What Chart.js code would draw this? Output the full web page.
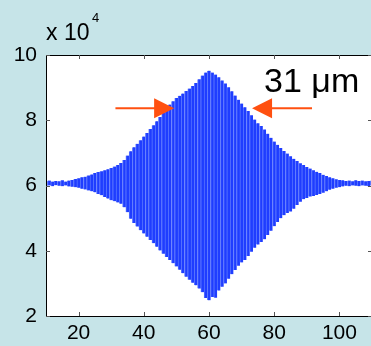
<!DOCTYPE html>
<html>
<head>
<meta charset="utf-8">
<script src="https://cdn.jsdelivr.net/npm/chart.js@4.4.0/dist/chart.umd.min.js"></script>
<style>
html, body { margin: 0; padding: 0; background: #c6e4e8; overflow: hidden; width: 371px; height: 346px; }
#wrap { width: 375px; height: 346px; }
</style>
</head>
<body>
<div id="wrap"><canvas id="myChart" width="375" height="346"></canvas></div>
<script>
// scan position (x axis)
var xPos = [10, 11, 12, 13, 14, 15, 16, 17, 18, 19, 20, 21, 22, 23, 24, 25, 26, 27, 28, 29,
    30, 31, 32, 33, 34, 35, 36, 37, 38, 39, 40, 41, 42, 43, 44, 45, 46, 47, 48, 49,
    50, 51, 52, 53, 54, 55, 56, 57, 58, 59, 60, 61, 62, 63, 64, 65, 66, 67, 68, 69,
    70, 71, 72, 73, 74, 75, 76, 77, 78, 79, 80, 81, 82, 83, 84, 85, 86, 87, 88, 89,
    90, 91, 92, 93, 94, 95, 96, 97, 98, 99, 100, 101, 102, 103, 104, 105, 106, 107, 108, 109, 110];

// fringe maxima / minima (x 10^4)
var upper = [6.13, 6.15, 6.12, 6.14, 6.13, 6.16, 6.12, 6.15, 6.17, 6.20,
    6.22, 6.25, 6.27, 6.31, 6.34, 6.38, 6.41, 6.44, 6.47, 6.50,
    6.54, 6.58, 6.63, 6.69, 6.78, 6.92, 7.05, 7.17, 7.28, 7.39,
    7.50, 7.61, 7.73, 7.85, 7.97, 8.10, 8.22, 8.34, 8.48, 8.58,
    8.68, 8.75, 8.82, 8.90, 8.97, 9.05, 9.14, 9.26, 9.37, 9.46,
    9.52, 9.46, 9.40, 9.32, 9.22, 9.13, 9.01, 8.89, 8.76, 8.63,
    8.51, 8.40, 8.28, 8.15, 8.02, 7.91, 7.82, 7.72, 7.59, 7.46,
    7.35, 7.25, 7.15, 7.06, 6.98, 6.90, 6.82, 6.75, 6.68, 6.63,
    6.57, 6.52, 6.47, 6.42, 6.38, 6.33, 6.29, 6.25, 6.22, 6.19,
    6.17, 6.16, 6.14, 6.15, 6.13, 6.16, 6.14, 6.15, 6.13, 6.14, 6.15];
var lower = [5.99, 6.00, 5.98, 6.01, 5.99, 5.98, 6.00, 5.97, 5.96, 5.95,
    5.93, 5.90, 5.88, 5.85, 5.82, 5.79, 5.74, 5.70, 5.65, 5.60,
    5.55, 5.52, 5.48, 5.44, 5.33, 5.18, 4.98, 4.85, 4.74, 4.63,
    4.53, 4.43, 4.33, 4.23, 4.12, 4.01, 3.91, 3.81, 3.72, 3.62,
    3.52, 3.42, 3.31, 3.20, 3.11, 3.02, 2.94, 2.84, 2.73, 2.55,
    2.48, 2.58, 2.56, 2.78, 2.90, 3.00, 3.14, 3.28, 3.41, 3.54,
    3.64, 3.72, 3.84, 3.97, 4.09, 4.19, 4.27, 4.35, 4.48, 4.61,
    4.75, 4.88, 5.00, 5.09, 5.16, 5.20, 5.29, 5.40, 5.50, 5.58,
    5.62, 5.66, 5.68, 5.71, 5.74, 5.78, 5.82, 5.87, 5.90, 5.93,
    5.95, 5.97, 5.99, 5.98, 6.00, 5.99, 5.98, 6.00, 5.99, 5.98, 6.00];

var xTicks = [20, 40, 60, 80, 100];
var yTicks = [2, 4, 6, 8, 10];

// FWHM markers
var arrowY = 8.37;
var leftArrow = [31.3, 49.3];
var rightArrow = [91.6, 73.2];
var widthLabel = '31 μm';
var labelPos = [76.9, 8.88];

var FONT = '"Liberation Sans", Arial, Helvetica, sans-serif';

var framePlugin = {
    id: 'frame',
    beforeDatasetsDraw: function (chart) {
        var a = chart.chartArea, ctx = chart.ctx;
        ctx.save();
        ctx.fillStyle = '#ffffff';
        ctx.fillRect(a.left, a.top, a.right - a.left, a.bottom - a.top);
        ctx.restore();
    },
    afterDraw: function (chart) {
        var a = chart.chartArea, ctx = chart.ctx;
        var xs = chart.scales.x, ys = chart.scales.y;
        ctx.save();
        ctx.strokeStyle = '#000';
        ctx.lineWidth = 1;
        ctx.strokeRect(Math.round(a.left) + 0.5, Math.round(a.top) + 0.5, Math.round(a.right - a.left), Math.round(a.bottom - a.top));
        ctx.strokeStyle = '#555';
        ctx.beginPath();
        xTicks.forEach(function (v) {
            var p = Math.round(xs.getPixelForValue(v)) + 0.5;
            ctx.moveTo(p, a.bottom); ctx.lineTo(p, a.bottom - 4);
            ctx.moveTo(p, a.top); ctx.lineTo(p, a.top + 4);
        });
        yTicks.forEach(function (v) {
            var p = Math.round(ys.getPixelForValue(v)) + 0.5;
            ctx.moveTo(a.left, p); ctx.lineTo(a.left + 4, p);
            ctx.moveTo(a.right, p); ctx.lineTo(a.right - 4, p);
        });
        ctx.stroke();

        // exponent label
        ctx.fillStyle = '#000';
        ctx.textBaseline = 'alphabetic';
        ctx.textAlign = 'left';
        ctx.font = '23px ' + FONT;
        ctx.fillText('x 10', 46, 40);
        ctx.font = '13px ' + FONT;
        ctx.fillText('4', 92, 22);

        // arrows
        var ay = ys.getPixelForValue(arrowY);
        ctx.strokeStyle = '#ff5010';
        ctx.fillStyle = '#ff5010';
        ctx.lineWidth = 2;
        [leftArrow, rightArrow].forEach(function (ar) {
            var x0 = xs.getPixelForValue(ar[0]);
            var x1 = xs.getPixelForValue(ar[1]);
            var dir = x1 > x0 ? 1 : -1;
            ctx.beginPath();
            ctx.moveTo(x0, ay); ctx.lineTo(x1 - dir * 18, ay);
            ctx.stroke();
            ctx.beginPath();
            ctx.moveTo(x1, ay);
            ctx.lineTo(x1 - dir * 20, ay - 10);
            ctx.lineTo(x1 - dir * 20, ay + 10);
            ctx.closePath();
            ctx.fill();
        });

        ctx.fillStyle = '#000';
        ctx.font = '34px ' + FONT;
        ctx.textAlign = 'left';
        ctx.fillText(widthLabel, xs.getPixelForValue(labelPos[0]), ys.getPixelForValue(labelPos[1]));
        ctx.restore();
    }
};

var ctx = document.getElementById('myChart').getContext('2d');
var myChart = new Chart(ctx, {
    type: 'bar',
    data: {
        datasets: [{
            data: xPos.map(function (x, i) { return { x: x, y: [lower[i], upper[i]] }; }),
            backgroundColor: '#1f3dff',
            borderColor: '#5572ff',
            borderWidth: { left: 1, right: 0, top: 0, bottom: 0 },
            borderSkipped: false,
            categoryPercentage: 1,
            barPercentage: 1
        }]
    },
    options: {
        responsive: false,
        animation: false,
        events: [],
        layout: { padding: { top: 55, right: 3, left: 0, bottom: 0 } },
        plugins: { legend: { display: false }, tooltip: { enabled: false } },
        scales: {
            x: {
                type: 'linear',
                min: 10,
                max: 110,
                offset: false,
                grid: { display: false, drawTicks: false },
                border: { display: false },
                afterBuildTicks: function (s) { s.ticks = xTicks.map(function (v) { return { value: v }; }); },
                afterFit: function (s) { s.height = 30; },
                ticks: { color: '#000', padding: 5, maxRotation: 0, font: { family: FONT, size: 21 } }
            },
            y: {
                min: 2,
                max: 10,
                grid: { display: false, drawTicks: false },
                border: { display: false },
                afterBuildTicks: function (s) { s.ticks = yTicks.map(function (v) { return { value: v }; }); },
                afterFit: function (s) { s.width = 46; },
                ticks: { color: '#000', padding: 9, font: { family: FONT, size: 21 } }
            }
        }
    },
    plugins: [framePlugin]
});
</script>
</body>
</html>
